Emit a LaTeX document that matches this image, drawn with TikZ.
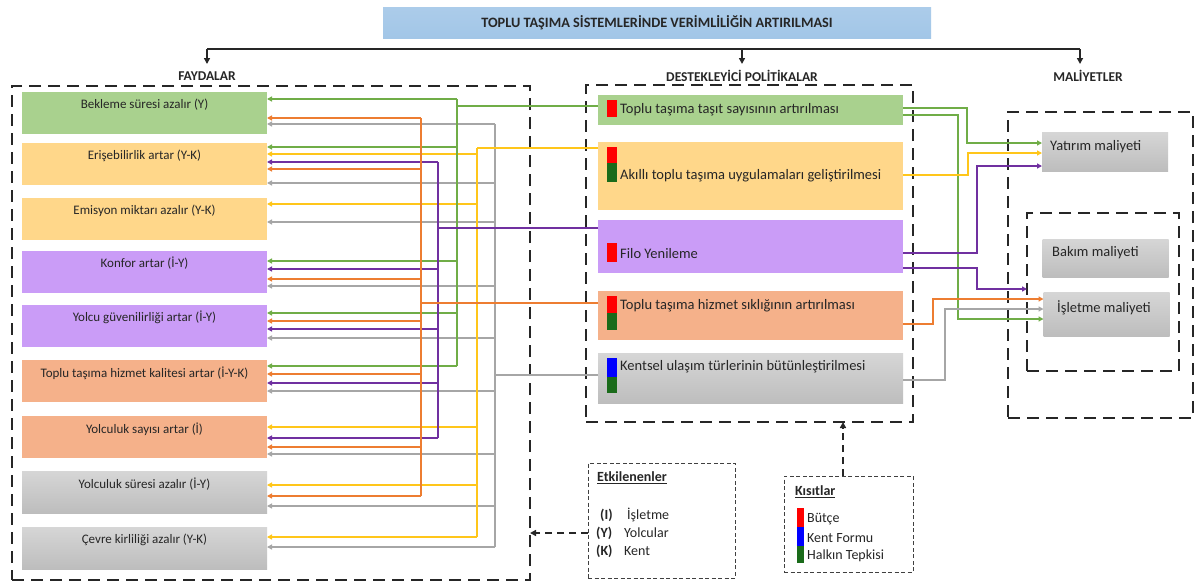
\documentclass[tikz,border=0pt]{standalone}
\usepackage{fontspec}
\setmainfont{Carlito}
\usetikzlibrary{arrows.meta,calc}
\definecolor{txt}{HTML}{262626}
\definecolor{fG}{HTML}{A9D18E}
\definecolor{fY}{HTML}{FFD78A}
\definecolor{fP}{HTML}{CA9CF7}
\definecolor{fS}{HTML}{F5B18A}
\definecolor{fGrT}{HTML}{D6D6D6}
\definecolor{fGrB}{HTML}{BDBDBD}
\definecolor{fT}{HTML}{9DC3E6}
\definecolor{lG}{HTML}{70AD47}
\definecolor{lY}{HTML}{FFC61A}
\definecolor{lP}{HTML}{7030A0}
\definecolor{lO}{HTML}{ED7D31}
\definecolor{lS}{HTML}{A6A6A6}
\definecolor{mR}{HTML}{FF0000}
\definecolor{mG}{HTML}{1A6B1A}
\definecolor{mB}{HTML}{0000FF}
\tikzset{
  bf/.style={minimum width=245pt, minimum height=42pt, inner sep=0pt, outer sep=0pt},
  pf/.style={minimum width=305pt, inner sep=0pt, outer sep=0pt},
  cf/.style={minimum width=126pt, inner sep=0pt, outer sep=0pt, top color=fGrT, bottom color=fGrB},
  btx/.style={font=\fontsize{13}{15}\selectfont, text=txt, inner sep=0pt},
  ptx/.style={font=\fontsize{14.5}{17}\selectfont, text=txt, anchor=west, inner sep=0pt},
  ltx/.style={font=\fontsize{14}{16}\selectfont, text=txt, anchor=west, inner sep=0pt},
  sec/.style={font=\bfseries\fontsize{13.5}{16}\selectfont, text=txt, inner sep=1pt},
  dbox/.style={draw=black!85, line width=2.4pt, dash pattern=on 12pt off 7pt, inner sep=0pt, outer sep=0pt},
  tdbox/.style={draw=black!75, line width=0.8pt, dash pattern=on 4pt off 2.5pt, inner sep=0pt, outer sep=0pt},
  br/.style={line width=1.6pt, -{Triangle[length=5pt,width=5pt]}},
  tr/.style={line width=2.8pt},
  rc/.style={line width=1.5pt, -{Triangle[length=5pt,width=5pt]}},
  blk/.style={line width=2pt, draw=black!85},
}
\begin{document}
\begin{tikzpicture}[x=1pt,y=-1pt]
\useasboundingbox (0,0) rectangle (1196,584);
\fill[white] (0,0) rectangle (1196,584);

% title
\node[minimum width=548pt, minimum height=31pt, inner sep=0pt, top color=fT!85, bottom color=fT!100!black!95, font=\bfseries\fontsize{14.3}{16}\selectfont, text=txt] (title) at (657,22.5) {TOPLU TAŞIMA SİSTEMLERİNDE VERİMLİLİĞİN ARTIRILMASI};

% section labels
\node[sec] (lf) at (207,76) {FAYDALAR};
\node[sec] (ld) at (742,76) {DESTEKLEYİCİ POLİTİKALAR};
\node[sec] (lm) at (1088,76) {MALİYETLER};
\coordinate (ja) at (207,49);
\coordinate (jb) at (742,49);
\coordinate (jc) at (1080,49);
\coordinate (ea) at (207,64);
\coordinate (eb) at (742,64);
\coordinate (ec) at (1080,64);
\draw[blk] (ja) -- (jc);
\draw[blk, -{Triangle[length=6pt,width=6pt]}] (ja) -- (ea);
\draw[blk, -{Triangle[length=6pt,width=6pt]}] (jb) -- (eb);
\draw[blk, -{Triangle[length=6pt,width=6pt]}] (jc) -- (ec);

% dashed groups
\node[dbox, minimum width=518pt, minimum height=494pt] (fay) at (271,333) {};
\node[dbox, minimum width=327pt, minimum height=337pt] (des) at (749.5,253.5) {};
\node[dbox, minimum width=185pt, minimum height=306pt] (mal) at (1100.5,265) {};
\node[dbox, minimum width=152pt, minimum height=158pt] (inn) at (1103,292) {};

% benefit boxes
\node[bf, fill=fG] (b1) at (144.5,112.5) {};
\node[bf, fill=fY] (b2) at (144.5,164) {};
\node[bf, fill=fY] (b3) at (144.5,219) {};
\node[bf, fill=fP] (b4) at (144.5,271.5) {};
\node[bf, fill=fP] (b5) at (144.5,325.5) {};
\node[bf, fill=fS] (b6) at (144.5,381) {};
\node[bf, fill=fS] (b7) at (144.5,437) {};
\node[bf, top color=fGrT, bottom color=fGrB] (b8) at (144.5,492) {};
\node[bf, top color=fGrT, bottom color=fGrB] (b9) at (144.5,548) {};
\node[btx] (t1) at ($(b1.north)+(0,13)$) {Bekleme süresi azalır (Y)};
\node[btx] (t2) at ($(b2.north)+(0,13)$) {Erişebilirlik artar (Y-K)};
\node[btx] (t3) at ($(b3.north)+(0,13)$) {Emisyon miktarı azalır (Y-K)};
\node[btx] (t4) at ($(b4.north)+(0,13)$) {Konfor artar (İ-Y)};
\node[btx] (t5) at ($(b5.north)+(0,13)$) {Yolcu güvenilirliği artar (İ-Y)};
\node[btx] (t6) at ($(b6.north)+(0,13)$) {Toplu taşıma hizmet kalitesi artar (İ-Y-K)};
\node[btx] (t7) at ($(b7.north)+(0,13)$) {Yolculuk sayısı artar (İ)};
\node[btx] (t8) at ($(b8.north)+(0,13)$) {Yolculuk süresi azalır (İ-Y)};
\node[btx] (t9) at ($(b9.north)+(0,13)$) {Çevre kirliliği azalır (Y-K)};

% policy boxes
\node[pf, fill=fG, minimum height=30pt] (p1) at (750.5,110) {};
\node[pf, fill=fY, minimum height=68pt] (p2) at (750.5,176) {};
\node[pf, fill=fP, minimum height=53pt] (p3) at (750.5,246.5) {};
\node[pf, fill=fS, minimum height=49pt] (p4) at (750.5,315.5) {};
\node[pf, top color=fGrT, bottom color=fGrB, minimum height=50pt] (p5) at (750.5,378) {};
\fill[mR] (607,100) rectangle (617,117);
\fill[mR] (607,147) rectangle (617,163);
\fill[mG] (607,163) rectangle (617,182);
\fill[mR] (607,243) rectangle (617,262);
\fill[mR] (607,296) rectangle (617,313);
\fill[mG] (607,313) rectangle (617,330);
\fill[mB] (607,358) rectangle (617,377);
\fill[mG] (607,377) rectangle (617,393);
\node[ptx] (q1) at (620,110) {Toplu taşıma taşıt sayısının artırılması};
\node[ptx] (q2) at (620,176) {Akıllı toplu taşıma uygulamaları geliştirilmesi};
\node[ptx] (q3) at (620,254) {Filo Yenileme};
\node[ptx] (q4) at (620,306) {Toplu taşıma hizmet sıklığının artırılması};
\node[ptx] (q5) at (620,367) {Kentsel ulaşım türlerinin bütünleştirilmesi};

% cost boxes
\node[cf, minimum height=39pt] (c1) at (1105,151.5) {};
\node[cf, minimum height=38pt] (c2) at (1105.5,258) {};
\node[cf, minimum height=44pt] (c3) at (1106.5,314) {};
\node[ptx] (u1) at (1050,147) {Yatırım maliyeti};
\node[ptx] (u2) at (1052,253) {Bakım maliyeti};
\node[ptx] (u3) at (1057,308) {İşletme maliyeti};

% trunk coordinates
\coordinate (xo) at (421,0);
\coordinate (xp) at (438,0);
\coordinate (xg) at (457,0);
\coordinate (xy) at (477,0);
\coordinate (xs) at (495,0);

% grey (P5)
\draw[lS, tr] (p5.west |- 0,375) -- (xs |- 0,375);
\draw[lS, tr] (xs |- 0,124) -- (xs |- 0,547);
\foreach \yy/\bb in {124/b1,183/b2,222/b3,286/b4,338/b5,391/b6,454/b7,506/b8,547/b9}
  \draw[lS, br] (xs |- 0,\yy) -- (\bb.east |- 0,\yy);
% yellow (P2)
\draw[lY, tr] (p2.west |- 0,148) -- (xy |- 0,148);
\draw[lY, tr] (xy |- 0,148) -- (xy |- 0,537);
\foreach \yy/\bb in {154/b2,204/b3,427/b7,485/b8,537/b9}
  \draw[lY, br] (xy |- 0,\yy) -- (\bb.east |- 0,\yy);
% green (P1)
\draw[lG, tr] (p1.west |- 0,106) -- (xg |- 0,106);
\draw[lG, tr] (xg |- 0,99) -- (xg |- 0,366);
\foreach \yy/\bb in {99/b1,147/b2,261/b4,313/b5,366/b6}
  \draw[lG, br] (xg |- 0,\yy) -- (\bb.east |- 0,\yy);
% purple (P3)
\draw[lP, tr] (p3.west |- 0,228) -- (xp |- 0,228);
\draw[lP, tr] (xp |- 0,162) -- (xp |- 0,438);
\foreach \yy/\bb in {162/b2,269/b4,329/b5,383/b6,438/b7}
  \draw[lP, br] (xp |- 0,\yy) -- (\bb.east |- 0,\yy);
% orange (P4)
\draw[lO, tr] (p4.west |- 0,303) -- (xo |- 0,303);
\draw[lO, tr] (xo |- 0,118) -- (xo |- 0,496);
\foreach \yy/\bb in {118/b1,169/b2,279/b4,321/b5,374/b6,447/b7,496/b8}
  \draw[lO, br] (xo |- 0,\yy) -- (\bb.east |- 0,\yy);

% right connectors
\draw[lG, rc] (p1.east |- 0,108) -- (967,108) -- (967,143) -- (c1.west |- 0,143);
\draw[lG, rc] (p1.east |- 0,115) -- (958,115) -- (958,319) -- (c3.west |- 0,319);
\draw[lY, rc] (p2.east |- 0,175) -- (968,175) -- (968,153) -- (c1.west |- 0,153);
\draw[lP, rc] (p3.east |- 0,253) -- (977,253) -- (977,166) -- (c1.west |- 0,166);
\draw[lP, rc] (p3.east |- 0,268) -- (977,268) -- (977,289) -- (inn.west |- 0,289);
\draw[lO, rc] (p4.east |- 0,324) -- (933,324) -- (933,299) -- (c3.west |- 0,299);
\draw[lS, rc] (p5.east |- 0,380) -- (945,380) -- (945,309) -- (c3.west |- 0,309);

% legends
\node[tdbox, minimum width=147pt, minimum height=115pt] (etk) at (661.5,520.5) {};
\node[tdbox, minimum width=129pt, minimum height=96pt] (kis) at (848.5,524) {};
\node[ltx, font=\bfseries\fontsize{14}{16}\selectfont] (e0) at (597,478) {\underline{Etkilenenler}};
\node[ltx, font=\bfseries\fontsize{14}{16}\selectfont] (e1) at (600,515) {(I)};
\node[ltx] (e2) at (627,515) {İşletme};
\node[ltx, font=\bfseries\fontsize{14}{16}\selectfont] (e3) at (596,533) {(Y)};
\node[ltx] (e4) at (624,533) {Yolcular};
\node[ltx, font=\bfseries\fontsize{14}{16}\selectfont] (e5) at (596,551) {(K)};
\node[ltx] (e6) at (624,551) {Kent};
\node[ltx, font=\bfseries\fontsize{14}{16}\selectfont] (k0) at (795,492) {\underline{Kısıtlar}};
\fill[mR] (797,508) rectangle (804,527);
\fill[mB] (797,527) rectangle (804,546);
\fill[mG] (797,546) rectangle (804,563);
\node[ltx] (k1) at (807,519) {Bütçe};
\node[ltx] (k2) at (807,538) {Kent Formu};
\node[ltx] (k3) at (807,556) {Halkın Tepkisi};

\draw[blk, dash pattern=on 7pt off 5pt, -{Triangle[length=6pt,width=6pt]}] (etk.west |- 0,533) -- (fay.east |- 0,533);
\draw[blk, dash pattern=on 7pt off 5pt, -{Triangle[length=6pt,width=6pt]}] (kis.north -| 843,0) -- (des.south -| 843,0);
\end{tikzpicture}
\end{document}
